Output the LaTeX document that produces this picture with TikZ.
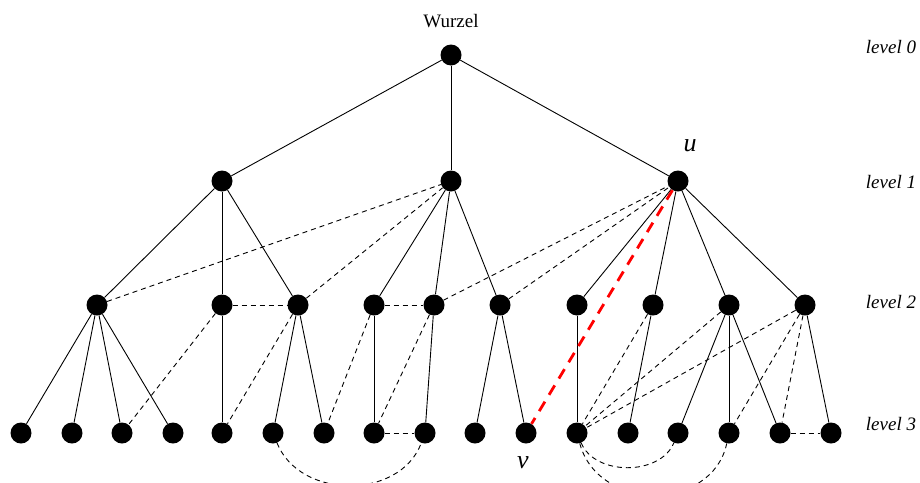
\documentclass[tikz,border=0pt]{standalone}
\usepackage{fontspec}
\setmainfont{Liberation Serif}
\begin{document}
\begin{tikzpicture}[x=1pt,y=-1pt,
  dot/.style={circle,fill=black,minimum size=21pt,inner sep=0pt},
  tree/.style={line width=0.9pt},
  xedge/.style={dashed,line width=0.9pt,dash pattern=on 5pt off 4pt},
  redge/.style={draw=red,line width=2.8pt,dash pattern=on 11pt off 8pt},
  lvl/.style={font=\fontsize{19}{22}\selectfont\itshape},
  vlab/.style={font=\fontsize{26}{30}\selectfont\itshape}]
\useasboundingbox (0,0) rectangle (920,482);
\clip (0,0) rectangle (920,482);
% nodes
\node[dot] (r) at (451,55) {};
\node[dot] (a) at (222,181) {};
\node[dot] (b) at (451,181) {};
\node[dot] (c) at (678,181) {};
\node[dot] (a1) at (97,305) {};
\node[dot] (a2) at (222,305) {};
\node[dot] (a3) at (298,305) {};
\node[dot] (b1) at (374,305) {};
\node[dot] (b2) at (434,305) {};
\node[dot] (b3) at (500,305) {};
\node[dot] (c1) at (577,305) {};
\node[dot] (c2) at (653,305) {};
\node[dot] (c3) at (729,305) {};
\node[dot] (c4) at (805,305) {};
\foreach \i/\x in {1/21,2/72,3/122,4/173,5/222,6/273,7/324,8/374,9/425,10/475,11/526,12/577,13/628,14/678,15/729,16/780,17/831}
  \node[dot] (l\i) at (\x,433) {};
% labels
\node[font=\fontsize{19}{22}\selectfont] (wl) at (451,21) {Wurzel};
\node[vlab] (ul) at (690,146) {u};
\node[vlab] (vl) at (523,463) {v};
\node[lvl] (lv0) at (891,47) {level 0};
\node[lvl] (lv1) at (891,182) {level 1};
\node[lvl] (lv2) at (891,302) {level 2};
\node[lvl] (lv3) at (891,424) {level 3};
% tree edges
\draw[tree] (r) -- (a); \draw[tree] (r) -- (b); \draw[tree] (r) -- (c);
\foreach \p/\q in {a/a1,a/a2,a/a3,b/b1,b/b2,b/b3,c/c1,c/c2,c/c3,c/c4,
  a1/l1,a1/l2,a1/l3,a1/l4,a2/l5,a3/l6,a3/l7,b1/l8,b2/l9,b3/l10,b3/l11,
  c1/l12,c2/l13,c3/l14,c3/l15,c3/l16,c4/l17}
  \draw[tree] (\p) -- (\q);
% non-tree edges
\foreach \p/\q in {a1/b,a3/b,a2/a3,a2/l3,a3/l5,b1/b2,b1/l7,b2/l8,l8/l9,
  b2/c,b3/c,c2/l12,c3/l12,c4/l12,c4/l15,c4/l16,l16/l17}
  \draw[xedge] (\p) -- (\q);
\draw[xedge] (l6) .. controls (300,500) and (400,500) .. (l9);
\draw[xedge] (l12) .. controls (595,476) and (660,476) .. (l14);
\draw[xedge] (l12) .. controls (598,512) and (712,512) .. (l15);
\draw[redge] (c) -- (l11);
\end{tikzpicture}
\end{document}
